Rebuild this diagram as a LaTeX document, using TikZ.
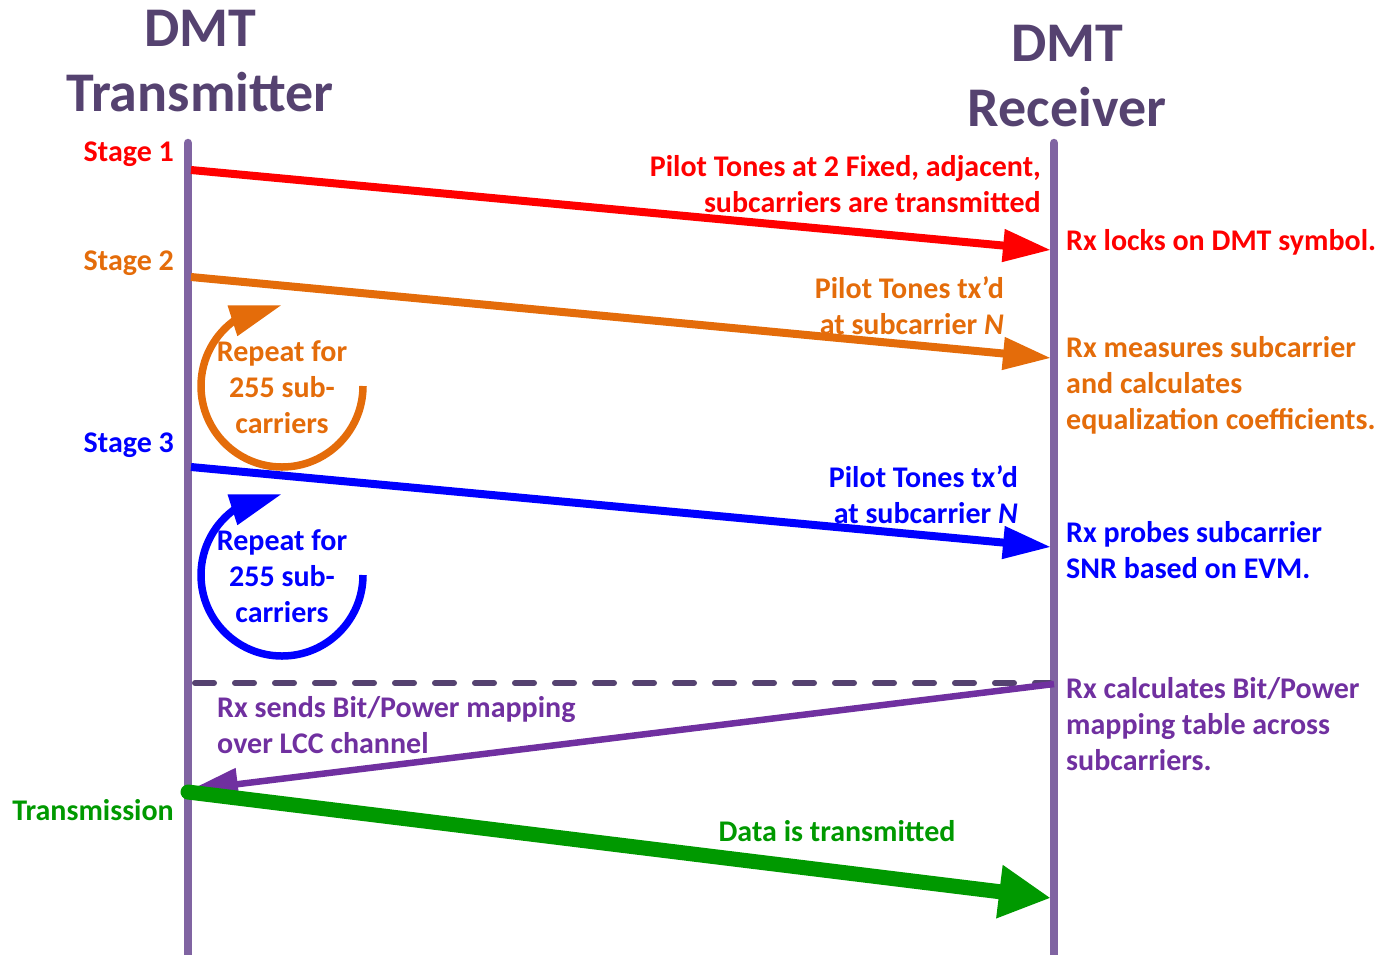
\documentclass[tikz,border=0pt]{standalone}
\usepackage{fontspec}
\setmainfont{Carlito}
\usetikzlibrary{arrows.meta,bending}
\definecolor{life}{RGB}{128,100,162}
\definecolor{ttlcol}{RGB}{85,66,112}
\definecolor{sred}{RGB}{255,0,0}
\definecolor{sorange}{RGB}{228,108,10}
\definecolor{sblue}{RGB}{0,0,255}
\definecolor{spurple}{RGB}{112,48,160}
\definecolor{sgreen}{RGB}{0,153,0}
\tikzset{
  lifeline/.style={draw=life, line width=8.5pt, line cap=round},
  msg/.style={line width=8pt, -{Triangle[length=48pt,width=31pt]}},
  bigmsg/.style={line width=15pt, line cap=round, -{Triangle[length=52pt,width=50pt]}},
  lbl/.style={font=\fontsize{30}{36}\selectfont\bfseries, inner sep=0pt},
  ttl/.style={font=\fontsize{56}{65}\selectfont\bfseries, text=ttlcol, align=center, inner sep=0pt},
  looparrow/.style={line width=7.5pt, -{Triangle[length=52pt,width=30pt,flex]}},
}
\begin{document}
\begin{tikzpicture}[x=1pt,y=-1pt]
\useasboundingbox (0,0) rectangle (1388,954);

% headings
\node[ttl] (txh) at (200,61) {DMT\\Transmitter};
\node[ttl] (rxh) at (1067,76) {DMT\\Receiver};

% lifelines
\coordinate (txtop) at (188,143);
\coordinate (txbot) at (188,965);
\coordinate (rxtop) at (1054,143);
\coordinate (rxbot) at (1054,965);
\draw[lifeline] (txtop) -- (txbot);
\draw[lifeline] (rxtop) -- (rxbot);

% Stage 1
\coordinate (s1a) at (191,170);
\coordinate (s1b) at (1051,250);
\draw[msg, sred] (s1a) -- (s1b);
\node[lbl, text=sred, anchor=east] (st1) at (174,154) {Stage 1};
\node[lbl, text=sred, anchor=east, align=right] (m1) at (1041,184)
  {Pilot Tones at 2 Fixed, adjacent,\\subcarriers are transmitted};
\node[lbl, text=sred, anchor=west] (r1) at (1066,242) {Rx locks on DMT symbol.};

% Stage 2
\coordinate (s2a) at (191,277);
\coordinate (s2b) at (1051,358);
\draw[msg, sorange] (s2a) -- (s2b);
\node[lbl, text=sorange, anchor=east] (st2) at (174,263) {Stage 2};
\node[lbl, text=sorange, anchor=east, align=right] (m2) at (1004,306)
  {Pilot Tones tx’d\\at subcarrier \textit{N}};
\node[lbl, text=sorange, anchor=west, align=left] (r2) at (1066,385)
  {Rx measures subcarrier\\and calculates\\equalization coefficients.};
\coordinate (o2) at (363,386);
\draw[looparrow, sorange] (o2) arc[start angle=0, end angle=270, radius=81];
\node[lbl, text=sorange, align=center] (rep2) at (282,387) {Repeat for\\255 sub-\\carriers};

% Stage 3
\coordinate (s3a) at (191,467);
\coordinate (s3b) at (1051,547);
\draw[msg, sblue] (s3a) -- (s3b);
\node[lbl, text=sblue, anchor=east] (st3) at (174,445) {Stage 3};
\node[lbl, text=sblue, anchor=east, align=right] (m3) at (1018,495)
  {Pilot Tones tx’d\\at subcarrier \textit{N}};
\node[lbl, text=sblue, anchor=west, align=left] (r3) at (1066,550)
  {Rx probes subcarrier\\SNR based on EVM.};
\coordinate (o3) at (363,575);
\draw[looparrow, sblue] (o3) arc[start angle=0, end angle=270, radius=81];
\node[lbl, text=sblue, align=center] (rep3) at (282,576) {Repeat for\\255 sub-\\carriers};

% separator
\coordinate (da) at (195,683);
\coordinate (db) at (1050,683);
\draw[ttlcol, line width=6pt, line cap=round, dash pattern=on 19pt off 21pt] (da) -- (db);

% mapping sent back
\coordinate (pa) at (1054,684);
\coordinate (pb) at (190,790);
\draw[msg, spurple, line width=6.5pt] (pa) -- (pb);
\node[lbl, text=spurple, anchor=west, align=left] (m4) at (217,725)
  {Rx sends Bit/Power mapping\\over LCC channel};
\node[lbl, text=spurple, anchor=west, align=left] (r4) at (1066,724)
  {Rx calculates Bit/Power\\mapping table across\\subcarriers.};

% transmission
\coordinate (ga) at (188,792);
\coordinate (gb) at (1051,898);
\draw[bigmsg, sgreen] (ga) -- (gb);
\node[lbl, text=sgreen, anchor=east] (st4) at (174,810) {Transmission};
\node[lbl, text=sgreen] (m5) at (837,831) {Data is transmitted};
\end{tikzpicture}
\end{document}
